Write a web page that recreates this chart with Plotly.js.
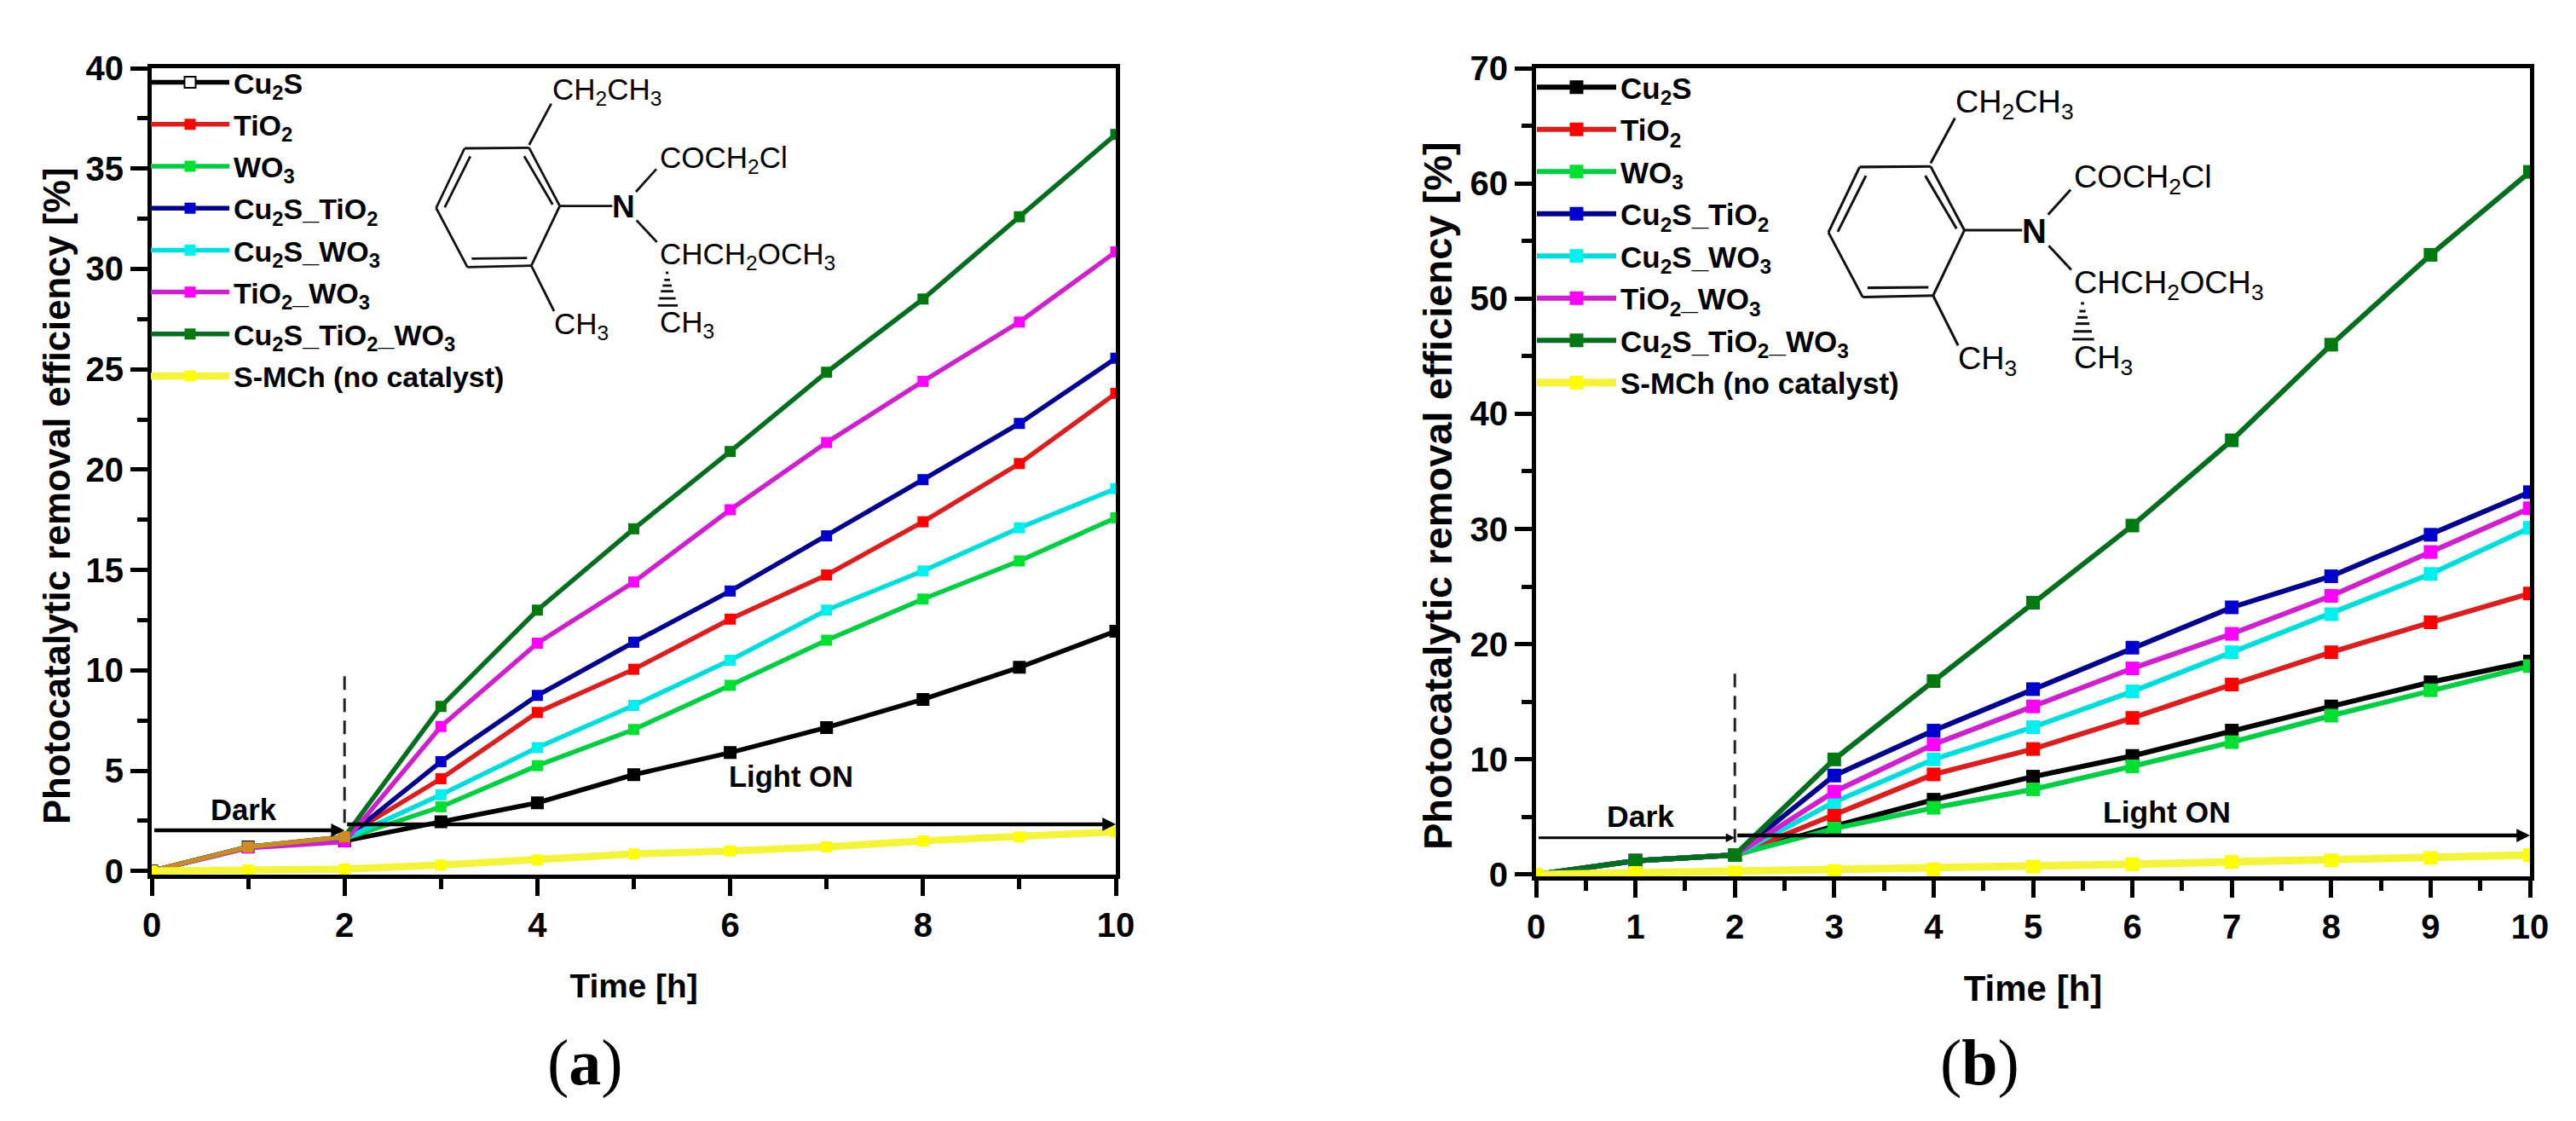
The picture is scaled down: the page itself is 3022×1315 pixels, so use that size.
<!DOCTYPE html>
<html><head><meta charset="utf-8">
<script src="https://cdn.plot.ly/plotly-3.0.1.min.js"></script>
<style>html,body{margin:0;padding:0;background:#fff}#chart{width:3022px;height:1315px}</style>
</head><body><div id="chart"></div>
<script>
// ---------- data ----------
const time = [0,1,2,3,4,5,6,7,8,9,10];
const seriesNames = ['Cu<sub>2</sub>S','TiO<sub>2</sub>','WO<sub>3</sub>','Cu<sub>2</sub>S_TiO<sub>2</sub>','Cu<sub>2</sub>S_WO<sub>3</sub>','TiO<sub>2</sub>_WO<sub>3</sub>','Cu<sub>2</sub>S_TiO<sub>2</sub>_WO<sub>3</sub>','S-MCh (no catalyst)'];

const a_Cu2S      = [0,1.2,1.5,2.45,3.4,4.8,5.9,7.15,8.55,10.15,11.95];
const a_TiO2      = [0,1.2,1.7,4.6,7.9,10.05,12.55,14.75,17.4,20.3,23.8];
const a_WO3       = [0,1.2,1.6,3.2,5.25,7.05,9.25,11.5,13.55,15.45,17.6];
const a_Cu2S_TiO2 = [0,1.2,1.6,5.45,8.75,11.4,13.95,16.7,19.5,22.3,25.55];
const a_Cu2S_WO3  = [0,1.2,1.6,3.8,6.15,8.25,10.5,13.0,14.95,17.1,19.05];
const a_TiO2_WO3  = [0,1.15,1.45,7.2,11.35,14.4,18.0,21.35,24.4,27.35,30.85];
const a_all       = [0,1.2,1.7,8.2,13.0,17.05,20.9,24.85,28.5,32.6,36.7];
const a_none      = [0,0.05,0.1,0.3,0.55,0.85,1.0,1.2,1.5,1.7,1.95];
const a_dark      = [0,1.2,1.7];

const b_Cu2S      = [0,1.2,1.7,4.2,6.5,8.5,10.3,12.5,14.6,16.7,18.5];
const b_TiO2      = [0,1.2,1.7,5.2,8.7,10.9,13.6,16.5,19.3,21.9,24.4];
const b_WO3       = [0,1.2,1.7,4.0,5.8,7.4,9.4,11.5,13.8,16.0,18.1];
const b_Cu2S_TiO2 = [0,1.2,1.7,8.6,12.5,16.1,19.7,23.2,25.9,29.5,33.2];
const b_Cu2S_WO3  = [0,1.2,1.7,6.3,10.0,12.8,15.9,19.3,22.6,26.1,30.1];
const b_TiO2_WO3  = [0,1.2,1.7,7.2,11.3,14.6,17.9,20.9,24.2,28.0,31.8];
const b_all       = [0,1.2,1.7,10.0,16.8,23.6,30.3,37.7,46.0,53.8,61.0];
const b_none      = [0,0.15,0.2,0.3,0.45,0.7,0.9,1.1,1.25,1.45,1.7];

// ---------- style ----------
const lineColors   = ['#000000','#d82020','#00cc44','#00008b','#00dcdc','#cc22cc','#006e1e','#f4f43c'];
const markerColors = ['#000000','#ff0000','#00e030','#0000cc','#00f0f0','#ff00ff','#007a10','#ffff00'];
const W = 3022, H = 1315, FONT = 'Liberation Sans';
const px = x => x / W, py = y => 1 - y / H;

function tracesFor(seriesList, xa, ya, leg, mSize, lw) {
  return seriesList.map((vals, i) => ({
    type: 'scatter', mode: 'lines+markers', x: time, y: vals,
    xaxis: xa, yaxis: ya, legend: leg, name: seriesNames[i], legendgroup: leg + i,
    line: {color: lineColors[i], width: i === 7 ? lw + 3 : lw},
    marker: {symbol: 'square', size: mSize, color: markerColors[i]},
    hoverinfo: 'skip'
  }));
}
const tracesA = tracesFor([a_Cu2S,a_TiO2,a_WO3,a_Cu2S_TiO2,a_Cu2S_WO3,a_TiO2_WO3,a_all,a_none],'x','y','legend',13,5.5);
const tracesB = tracesFor([b_Cu2S,b_TiO2,b_WO3,b_Cu2S_TiO2,b_Cu2S_WO3,b_TiO2_WO3,b_all,b_none],'x2','y2','legend2',16,6);
// hollow legend marker for Cu2S in panel (a): the legend uses the first point's colour
tracesA[0].marker.color = time.map((t,i)=> i===0 ? '#ffffff' : '#000000');
tracesA[0].marker.line = {color:'#000', width:2};
const darkOverlay = {type:'scatter',mode:'lines+markers',x:time.slice(0,3),y:a_dark,xaxis:'x',yaxis:'y',showlegend:false,
  line:{color:'#c98a2b',width:5.5},marker:{symbol:'square',size:13,color:'#d08c20'},hoverinfo:'skip'};
// keep yellow on top of the dark-phase overlay
const data = [...tracesA.slice(0,7), darkOverlay, tracesA[7], ...tracesB];

function axis(domain, anchor, range, dtick, minorDtick, extra) {
  return Object.assign({
    domain, anchor, range, dtick, tick0:0, autorange:false, showgrid:false, zeroline:false,
    showline:true, mirror:true, linecolor:'#000', linewidth:5,
    ticks:'outside', ticklen:20, tickwidth:5, tickcolor:'#000',
    tickfont:{family:FONT,size:40,color:'#000',weight:'bold'},
    minor:{dtick:minorDtick, ticks:'outside', ticklen:12, tickwidth:5, tickcolor:'#000', showgrid:false}
  }, extra||{});
}
const timeTitle = s => ({text:'Time [h]', font:{family:FONT,size:s,color:'#000',weight:'bold'}, standoff:38});

const annotations = [];
const shapes = [];
function text(s, x, y, size, opts) {
  annotations.push(Object.assign({xref:'paper',yref:'paper',x:px(x),y:py(y),text:s,showarrow:false,
    xanchor:'center',yanchor:'middle',font:{family:FONT,size,color:'#000'}},opts||{}));
}
const bold = s => ({font:{family:FONT,size:s,color:'#000',weight:'bold'}});
function arrow(xr, yr, x0, x1, y, width) {
  annotations.push({xref:xr,yref:yr,axref:xr,ayref:yr,x:x1,y:y,ax:x0,ay:y,text:' ',showarrow:true,
    arrowhead:2,arrowsize:0.7,arrowwidth:width,arrowcolor:'#000',standoff:0,startstandoff:0});
}
function dash(xr, yr, x, y0, y1) {
  shapes.push({type:'line',xref:xr,yref:yr,x0:x,x1:x,y0,y1,line:{color:'#222',width:3,dash:'16px,10px'}});
}

// panel (a) annotations
text('Photocatalytic removal efficiency [%]',67,582,43.6,Object.assign({textangle:-90},bold(43.6)));
text('Dark',286,950,34.7,bold(34.7));
text('Light ON',928,911,34.6,bold(34.6));
arrow('x','y',0,2,2.03,4.5); arrow('x','y',2,10,2.33,4.5); dash('x','y',2,2.4,10);
text('(<b>a</b>)',686,1246,76,{font:{family:'Liberation Serif',size:76,color:'#000'}});
// panel (b) annotations
text('Photocatalytic removal efficiency [%]',1686,582,47,Object.assign({textangle:-90},bold(47)));
text('Dark',1924.5,958,35.6,bold(35.6));
text('Light ON',2542,953,35.5,bold(35.5));
arrow('x2','y2',0,2,3.2,3); arrow('x2','y2',2,10,3.4,4.5); dash('x2','y2',2,2.8,17.5);
text('(<b>b</b>)',2322,1246,76,{font:{family:'Liberation Serif',size:76,color:'#000'}});

// molecule: bonds in panel (a) pixel space, mapped to each panel
const bonds = [[135,252,362,250],[362,250,470,455],[470,455,370,665],[370,665,145,670],[145,670,35,462],[35,462,135,252],
 [155,280,65,460],[345,280,445,450],[160,640,355,638],[362,240,440,95],[470,455,655,455],[738,405,810,325],[740,505,812,582],[370,665,450,825],
 [843,690,853,690],[838,715,858,715],[832,735,864,735],[826,755,870,755],[820,780,878,780],[815,805,885,805]];
const labels = [['CH<sub>2</sub>CH<sub>3</sub>',437,50],['COCH<sub>2</sub>Cl',815,290],['CHCH<sub>2</sub>OCH<sub>3</sub>',815,630],['CH<sub>3</sub>',443,875],['CH<sub>3</sub>',815,870]];
function molecule(mapX, mapY, scale) {
  bonds.forEach(b => shapes.push({type:'line',xref:'paper',yref:'paper',
    x0:px(mapX(b[0])),x1:px(mapX(b[2])),y0:py(mapY(b[1])),y1:py(mapY(b[3])),line:{color:'#111',width:2.8*scale}}));
  labels.forEach(l => text(l[0],mapX(l[1]),mapY(l[2]),35*scale,{xanchor:'left'}));
  text('N',mapX(693),mapY(458),37*scale,bold(37*scale));
}
const ax0 = s => 500 + s/3, ay0 = s => 90 + s/3;
molecule(ax0, ay0, 1);
molecule(s => 2145 + (ax0(s)-511.7)*1.1, s => 272.6 + (ay0(s)-244)*1.096, 1.08);

const legendFont = s => ({family:FONT,size:s,color:'#000',weight:'bold'});
const layout = {
  width:W, height:H, margin:{l:0,r:0,t:0,b:0}, paper_bgcolor:'#fff', plot_bgcolor:'rgba(0,0,0,0)',
  xaxis: axis([px(178),px(1309)],'y',[0,10],2,1,{title:timeTitle(38.8)}),
  yaxis: axis([py(1026),py(80)],'x',[-0.18,40],5,2.5),
  xaxis2:axis([px(1802),px(2968)],'y2',[0,10],1,0.5,{title:timeTitle(42)}),
  yaxis2:axis([py(1028),py(80)],'x2',[-0.15,70],10,5),
  legend:{x:px(172),y:py(68),xanchor:'left',yanchor:'top',bgcolor:'rgba(0,0,0,0)',itemwidth:92,font:legendFont(34),tracegroupgap:2,traceorder:'grouped'},
  legend2:{x:px(1798),y:py(73),xanchor:'left',yanchor:'top',bgcolor:'rgba(0,0,0,0)',itemwidth:93,font:legendFont(35),tracegroupgap:1,traceorder:'grouped'},
  annotations, shapes, showlegend:true
};
Plotly.newPlot('chart', data, layout, {staticPlot:true, displayModeBar:false});
</script></body></html>
